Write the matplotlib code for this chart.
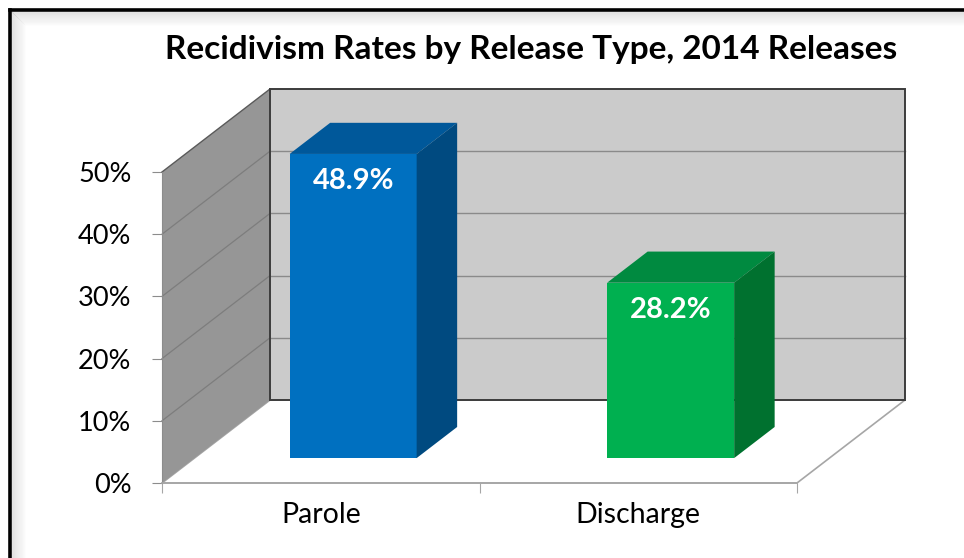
import matplotlib
matplotlib.use("Agg")
import matplotlib.pyplot as plt
from matplotlib.patches import Polygon
from matplotlib.lines import Line2D

# data
categories = ["Parole", "Discharge"]
rates = [48.9, 28.2]
rate_labels = ["48.9%", "28.2%"]
front_colors = ["#0070C0", "#00B050"]
top_colors = ["#00589A", "#008A40"]
side_colors = ["#004A80", "#00712F"]
y_ticks = [0, 10, 20, 30, 40, 50]
y_tick_labels = ["0%", "10%", "20%", "30%", "40%", "50%"]

plt.rcParams["font.family"] = ["Lato", "DejaVu Sans"]

W, H = 964, 558
fig = plt.figure(figsize=(W / 100, H / 100), dpi=100)
fig.patch.set_facecolor("white")

# front plane of the 3d box
ax = fig.add_axes([162 / W, (H - 483) / H, 635 / W, 311 / H])
ax.set_xlim(-0.5, 1.5)
ax.set_ylim(0, 50)
ax.patch.set_visible(False)

# oblique shift for full depth, in data units
DX = 108 / 635 * 2
DY = 83 / 311 * 50


def proj(x, y, d):
    return (x + d * DX, y + d * DY)


def face(pts, fc, ec="none", lw=0, z=1):
    ax.add_patch(Polygon(pts, closed=True, facecolor=fc, edgecolor=ec,
                         linewidth=lw, zorder=z, clip_on=False))


def seg(p, q, color, lw=1, z=1.5):
    ax.add_line(Line2D([p[0], q[0]], [p[1], q[1]], color=color, lw=lw,
                       zorder=z, clip_on=False))


x_lo, x_hi = -0.5, 1.5
y_top = 50

# floor
face([proj(x_lo, 0, 0), proj(x_hi, 0, 0), proj(x_hi, 0, 1), proj(x_lo, 0, 1)],
     "white", "#a6a6a6", 1.2, 0.8)
# left wall
face([proj(x_lo, 0, 0), proj(x_lo, y_top, 0), proj(x_lo, y_top, 1), proj(x_lo, 0, 1)],
     "#969696", z=1)
# back wall
face([proj(x_lo, 0, 1), proj(x_hi, 0, 1), proj(x_hi, y_top, 1), proj(x_lo, y_top, 1)],
     "#cbcbcb", z=1)

for v in y_ticks[1:-1]:
    seg(proj(x_lo, v, 0), proj(x_lo, v, 1), "#7d7d7d", 0.9)
    seg(proj(x_lo, v, 1), proj(x_hi, v, 1), "#8a8a8a", 1.0)

# wall edges
seg(proj(x_lo, y_top, 0), proj(x_lo, y_top, 1), "#5a5a5a", 1.0, 2)
back = [proj(x_lo, 0, 1), proj(x_hi, 0, 1), proj(x_hi, y_top, 1), proj(x_lo, y_top, 1)]
ax.add_patch(Polygon(back, closed=True, fill=False, edgecolor="#3c3c3c",
                     linewidth=1.4, zorder=2, clip_on=False))

# bars
half_w = 0.2
d0, d1 = 0.30, 0.675
for i, v in enumerate(rates):
    x0, x1 = i - half_w, i + half_w
    face([proj(x0, 0, d0), proj(x1, 0, d0), proj(x1, v, d0), proj(x0, v, d0)],
         front_colors[i], z=3)
    face([proj(x0, v, d0), proj(x1, v, d0), proj(x1, v, d1), proj(x0, v, d1)],
         top_colors[i], z=3)
    face([proj(x1, 0, d0), proj(x1, 0, d1), proj(x1, v, d1), proj(x1, v, d0)],
         side_colors[i], z=3)
    lx, ly = proj(i, v - 4.4, d0)
    ax.text(lx, ly, rate_labels[i], color="white", fontsize=21,
            fontweight="bold", ha="center", va="center", zorder=4)

# axes and ticks
for s in ["top", "right"]:
    ax.spines[s].set_visible(False)
ax.spines["left"].set_color("#8c8c8c")
ax.spines["bottom"].set_color("#a6a6a6")
ax.spines["bottom"].set_linewidth(1.2)
ax.spines["left"].set_zorder(2)
ax.set_yticks(y_ticks, y_tick_labels)
ax.set_xticks([-0.5, 0.5, 1.5], ["", "", ""])
ax.set_xticks([0, 1], categories, minor=True)
ax.tick_params(axis="y", length=7, color="#8c8c8c", labelsize=19.5, pad=15)
ax.tick_params(axis="x", which="major", length=7, color="#a6a6a6")
ax.tick_params(axis="x", which="minor", length=0, labelsize=20.5, pad=14)

# title
fig.text(531 / W, 1 - 50 / H, "Recidivism Rates by Release Type, 2014 Releases",
         ha="center", va="center", fontsize=24, fontweight="bold")

# outer frame with a soft inner shadow
for k in range(1, 15):
    a = 0.22 * (1 - k / 15)
    fig.add_artist(Line2D([(11 + k) / W, (11 + k) / W], [0, 1 - (11 + k) / H],
                          transform=fig.transFigure, color="gray", alpha=a, lw=0.8))
    fig.add_artist(Line2D([(11 + k) / W, 1], [1 - (11 + k) / H, 1 - (11 + k) / H],
                          transform=fig.transFigure, color="gray", alpha=a, lw=0.8))
fig.add_artist(Line2D([10 / W, 10 / W], [0, 1 - 10 / H], transform=fig.transFigure,
                      color="black", lw=2.6))
fig.add_artist(Line2D([10 / W, 1], [1 - 10 / H, 1 - 10 / H], transform=fig.transFigure,
                      color="black", lw=2.6))

fig.savefig("out.png", dpi=100)
